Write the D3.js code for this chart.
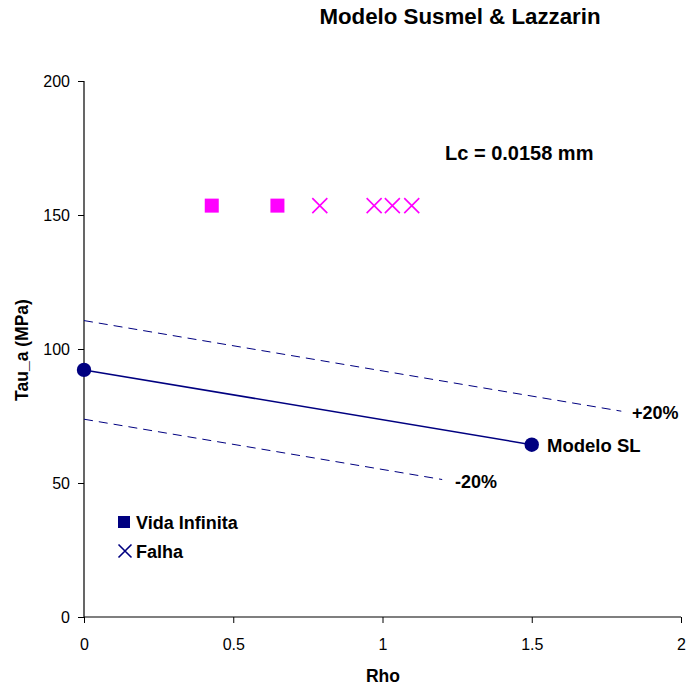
<!DOCTYPE html>
<html><head><meta charset="utf-8">
<script src="https://cdn.jsdelivr.net/npm/d3@7"></script>
<style>body{margin:0;background:#fff;} text{font-family:"Liberation Sans",Arial,sans-serif;}</style>
</head><body><svg id="c" width="689" height="690"></svg>
<script>
const xTicks = [0, 0.5, 1, 1.5, 2];
const yTicks = [0, 50, 100, 150, 200];
const vidaX = [0.428, 0.648];
const vidaY = [153.5, 153.5];
const falhaX = [0.79, 0.972, 1.033, 1.098];
const falhaY = [153.5, 153.5, 153.5, 153.5];
const modelX = [0, 1.5];
const modelY = [92.2, 64.3];
const plusX = [0, 1.8];
const plusY = [110.6, 76.8];
const minusX = [0, 1.2];
const minusY = [73.8, 51.3];

const svg = d3.select("#c");
const x = d3.scaleLinear().domain([0, 2]).range([84, 681]);
const y = d3.scaleLinear().domain([0, 200]).range([617, 81]);

const xa = svg.append("g").attr("transform","translate(0,617)")
  .call(d3.axisBottom(x).tickValues(xTicks).tickFormat(d3.format("")).tickSize(6).tickPadding(16));
const ya = svg.append("g").attr("transform","translate(84,0)")
  .call(d3.axisLeft(y).tickValues(yTicks).tickSize(6).tickPadding(8));
[xa, ya].forEach(a => {
  a.select(".domain").attr("stroke","#000").attr("stroke-width",1.2);
  a.selectAll("line").attr("stroke","#000");
  a.selectAll("text").attr("font-size",16).attr("fill","#000").attr("font-family","Liberation Sans, Arial, sans-serif");
});
ya.select(".domain").attr("d","M0,81V617");
xa.select(".domain").attr("d","M84,0H681");

const line = d3.line().x(d=>x(d[0])).y(d=>y(d[1]));
svg.append("path").attr("d", line(plusX.map((v,i)=>[v,plusY[i]])))
  .attr("stroke","#000080").attr("fill","none").attr("stroke-width",1).attr("stroke-dasharray","9,6");
svg.append("path").attr("d", line(minusX.map((v,i)=>[v,minusY[i]])))
  .attr("stroke","#000080").attr("fill","none").attr("stroke-width",1).attr("stroke-dasharray","9,6");
svg.append("path").attr("d", line(modelX.map((v,i)=>[v,modelY[i]])))
  .attr("stroke","#000080").attr("fill","none").attr("stroke-width",1.5);
svg.selectAll("circle.m").data(modelX).enter().append("circle")
  .attr("cx",d=>x(d)).attr("cy",(d,i)=>y(modelY[i])).attr("r",7.2).attr("fill","#000080");

svg.selectAll("rect.v").data(vidaX).enter().append("rect")
  .attr("x",d=>x(d)-7).attr("y",(d,i)=>y(vidaY[i])-7).attr("width",14).attr("height",14).attr("fill","#FF00FF");
const cross = (g, cx, cy, s, col) => {
  g.append("path").attr("d",`M${cx-s},${cy-s}L${cx+s},${cy+s}M${cx-s},${cy+s}L${cx+s},${cy-s}`)
   .attr("stroke",col).attr("stroke-width",1.6).attr("fill","none");
};
falhaX.forEach((v,i)=>cross(svg, x(v), y(falhaY[i]), 7.5, "#FF00FF"));

const bold = (t, px, py, size, anchor) => svg.append("text").text(t).attr("x",px).attr("y",py)
  .attr("font-size",size).attr("font-weight","bold").attr("text-anchor",anchor||"start").attr("fill","#000");
bold("Modelo Susmel & Lazzarin", 460, 24, 22.3, "middle");
bold("Lc = 0.0158 mm", 445, 160, 20);
bold("+20%", 632, 419, 18);
bold("-20%", 455, 488, 18);
bold("Modelo SL", 547, 452, 18.5);
bold("Rho", 383, 682, 17.5, "middle");
svg.append("text").text("Tau_a (MPa)").attr("transform","translate(28,350) rotate(-90)")
  .attr("font-size",17.5).attr("font-weight","bold").attr("text-anchor","middle");

svg.append("rect").attr("x",118).attr("y",516).attr("width",12).attr("height",12).attr("fill","#000080");
bold("Vida Infinita", 136, 529, 18);
cross(svg, 125, 551, 6.5, "#000080");
bold("Falha", 136, 558, 18);
</script></body></html>
